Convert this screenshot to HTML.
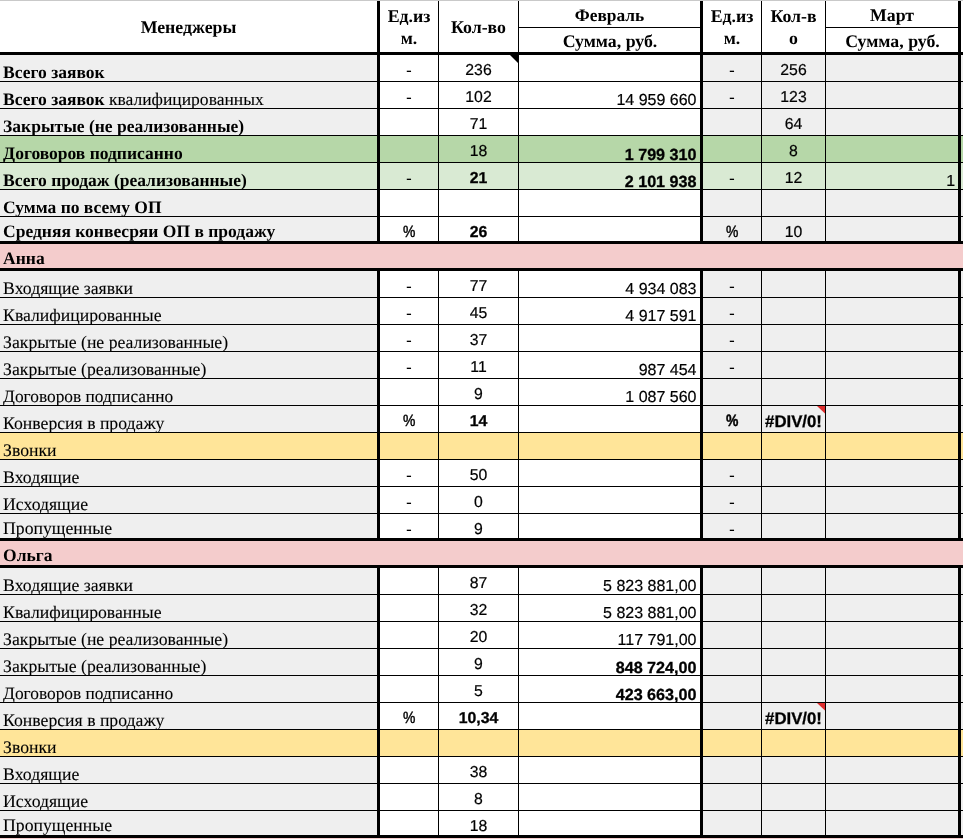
<!DOCTYPE html>
<html lang="ru"><head><meta charset="utf-8"><title>Менеджеры</title><style>
html,body{margin:0;padding:0;background:#fff}
#s{position:relative;width:963px;height:839px;overflow:hidden;background:#fff}
#s div{position:absolute;text-rendering:geometricPrecision}
#tx{left:0;top:0;width:963px;height:839px;will-change:transform}
.t{font-family:"Liberation Serif",serif;font-size:17.5px;line-height:20px;height:20px;white-space:nowrap;color:#000}
.n{font-family:"Liberation Sans",sans-serif;font-size:15.8px;line-height:20px;height:20px;white-space:nowrap;color:#000}
.h{font-family:"Liberation Serif",serif;font-size:17.8px;line-height:20px;height:20px;white-space:nowrap;color:#000;font-weight:bold;text-align:center}
.b{font-weight:bold}
.n{-webkit-text-stroke:.2px #000}
.n.b{-webkit-text-stroke:.3px #000}
.rg{font-size:17.7px;-webkit-text-stroke:.1px #000}
.rg.dp{font-size:17.35px}
.rg.kv{font-size:17.55px}
.pc{display:inline-block;position:relative;top:-1px;transform:scaleX(.85);font-size:16.4px;-webkit-text-stroke:.45px #000}
.hy{font-size:17.5px;line-height:0;-webkit-text-stroke:0;position:relative;top:.6px}
.dv{font-size:16.8px}
.r{font-size:16px}
.r.b{font-size:16.15px}
.c{text-align:center}
.r{text-align:right}
</style></head><body><div id="s">
<div style="left:0px;top:55px;width:377px;height:27px;background:#efefef"></div>
<div style="left:703px;top:55px;width:260px;height:27px;background:#efefef"></div>
<div style="left:0px;top:82px;width:377px;height:27px;background:#efefef"></div>
<div style="left:703px;top:82px;width:260px;height:27px;background:#efefef"></div>
<div style="left:0px;top:109px;width:377px;height:27px;background:#efefef"></div>
<div style="left:703px;top:109px;width:260px;height:27px;background:#efefef"></div>
<div style="left:0px;top:136px;width:963px;height:27px;background:#b6d7a8"></div>
<div style="left:0px;top:163px;width:963px;height:27px;background:#d9ead3"></div>
<div style="left:0px;top:190px;width:377px;height:27px;background:#efefef"></div>
<div style="left:703px;top:190px;width:260px;height:27px;background:#efefef"></div>
<div style="left:0px;top:217px;width:377px;height:27px;background:#efefef"></div>
<div style="left:703px;top:217px;width:260px;height:27px;background:#efefef"></div>
<div style="left:0px;top:244px;width:963px;height:27px;background:#f4cccc"></div>
<div style="left:0px;top:271px;width:377px;height:27px;background:#efefef"></div>
<div style="left:703px;top:271px;width:260px;height:27px;background:#efefef"></div>
<div style="left:0px;top:298px;width:377px;height:27px;background:#efefef"></div>
<div style="left:703px;top:298px;width:260px;height:27px;background:#efefef"></div>
<div style="left:0px;top:325px;width:377px;height:27px;background:#efefef"></div>
<div style="left:703px;top:325px;width:260px;height:27px;background:#efefef"></div>
<div style="left:0px;top:352px;width:377px;height:27px;background:#efefef"></div>
<div style="left:703px;top:352px;width:260px;height:27px;background:#efefef"></div>
<div style="left:0px;top:379px;width:377px;height:27px;background:#efefef"></div>
<div style="left:703px;top:379px;width:260px;height:27px;background:#efefef"></div>
<div style="left:0px;top:406px;width:377px;height:27px;background:#efefef"></div>
<div style="left:703px;top:406px;width:260px;height:27px;background:#efefef"></div>
<div style="left:0px;top:433px;width:963px;height:27px;background:#ffe599"></div>
<div style="left:0px;top:460px;width:377px;height:27px;background:#efefef"></div>
<div style="left:703px;top:460px;width:260px;height:27px;background:#efefef"></div>
<div style="left:0px;top:487px;width:377px;height:27px;background:#efefef"></div>
<div style="left:703px;top:487px;width:260px;height:27px;background:#efefef"></div>
<div style="left:0px;top:514px;width:377px;height:27px;background:#efefef"></div>
<div style="left:703px;top:514px;width:260px;height:27px;background:#efefef"></div>
<div style="left:0px;top:541px;width:963px;height:27px;background:#f4cccc"></div>
<div style="left:0px;top:568px;width:377px;height:27px;background:#efefef"></div>
<div style="left:703px;top:568px;width:260px;height:27px;background:#efefef"></div>
<div style="left:0px;top:595px;width:377px;height:27px;background:#efefef"></div>
<div style="left:703px;top:595px;width:260px;height:27px;background:#efefef"></div>
<div style="left:0px;top:622px;width:377px;height:27px;background:#efefef"></div>
<div style="left:703px;top:622px;width:260px;height:27px;background:#efefef"></div>
<div style="left:0px;top:649px;width:377px;height:27px;background:#efefef"></div>
<div style="left:703px;top:649px;width:260px;height:27px;background:#efefef"></div>
<div style="left:0px;top:676px;width:377px;height:27px;background:#efefef"></div>
<div style="left:703px;top:676px;width:260px;height:27px;background:#efefef"></div>
<div style="left:0px;top:703px;width:377px;height:27px;background:#efefef"></div>
<div style="left:703px;top:703px;width:260px;height:27px;background:#efefef"></div>
<div style="left:0px;top:730px;width:963px;height:27px;background:#ffe599"></div>
<div style="left:0px;top:757px;width:377px;height:27px;background:#efefef"></div>
<div style="left:703px;top:757px;width:260px;height:27px;background:#efefef"></div>
<div style="left:0px;top:784px;width:377px;height:27px;background:#efefef"></div>
<div style="left:703px;top:784px;width:260px;height:27px;background:#efefef"></div>
<div style="left:0px;top:811px;width:377px;height:27px;background:#efefef"></div>
<div style="left:703px;top:811px;width:260px;height:27px;background:#efefef"></div>
<div style="left:0px;top:838px;width:963px;height:1px;background:#f4cccc"></div>
<div style="left:0px;top:0px;width:963px;height:1px;background:#c9c9c9"></div>
<div style="left:519px;top:27px;width:181px;height:1px;background:#000"></div>
<div style="left:826px;top:27px;width:132px;height:1px;background:#000"></div>
<div style="left:0px;top:52px;width:963px;height:3px;background:#000"></div>
<div style="left:0px;top:81px;width:963px;height:1px;background:#000"></div>
<div style="left:0px;top:108px;width:963px;height:1px;background:#000"></div>
<div style="left:0px;top:135px;width:963px;height:1px;background:#000"></div>
<div style="left:0px;top:162px;width:963px;height:1px;background:#000"></div>
<div style="left:0px;top:189px;width:963px;height:1px;background:#000"></div>
<div style="left:0px;top:216px;width:963px;height:1px;background:#000"></div>
<div style="left:0px;top:241px;width:963px;height:3px;background:#000"></div>
<div style="left:0px;top:268px;width:963px;height:3px;background:#000"></div>
<div style="left:0px;top:297px;width:963px;height:1px;background:#000"></div>
<div style="left:0px;top:324px;width:963px;height:1px;background:#000"></div>
<div style="left:0px;top:351px;width:963px;height:1px;background:#000"></div>
<div style="left:0px;top:378px;width:963px;height:1px;background:#000"></div>
<div style="left:0px;top:405px;width:963px;height:1px;background:#000"></div>
<div style="left:0px;top:432px;width:963px;height:1px;background:#000"></div>
<div style="left:0px;top:459px;width:963px;height:1px;background:#000"></div>
<div style="left:0px;top:486px;width:963px;height:1px;background:#000"></div>
<div style="left:0px;top:513px;width:963px;height:1px;background:#000"></div>
<div style="left:0px;top:538px;width:963px;height:3px;background:#000"></div>
<div style="left:0px;top:565px;width:963px;height:3px;background:#000"></div>
<div style="left:0px;top:594px;width:963px;height:1px;background:#000"></div>
<div style="left:0px;top:621px;width:963px;height:1px;background:#000"></div>
<div style="left:0px;top:648px;width:963px;height:1px;background:#000"></div>
<div style="left:0px;top:675px;width:963px;height:1px;background:#000"></div>
<div style="left:0px;top:702px;width:963px;height:1px;background:#000"></div>
<div style="left:0px;top:729px;width:963px;height:1px;background:#000"></div>
<div style="left:0px;top:756px;width:963px;height:1px;background:#000"></div>
<div style="left:0px;top:783px;width:963px;height:1px;background:#000"></div>
<div style="left:0px;top:810px;width:963px;height:1px;background:#000"></div>
<div style="left:0px;top:835px;width:963px;height:3px;background:#000"></div>
<div style="left:377px;top:1px;width:3px;height:51px;background:#000"></div>
<div style="left:438px;top:1px;width:1px;height:51px;background:#000"></div>
<div style="left:518px;top:1px;width:1px;height:51px;background:#000"></div>
<div style="left:700px;top:1px;width:3px;height:51px;background:#000"></div>
<div style="left:761px;top:1px;width:1px;height:51px;background:#000"></div>
<div style="left:825px;top:1px;width:1px;height:51px;background:#000"></div>
<div style="left:958px;top:1px;width:3px;height:51px;background:#000"></div>
<div style="left:377px;top:55px;width:3px;height:27px;background:#000"></div>
<div style="left:438px;top:55px;width:1px;height:27px;background:#000"></div>
<div style="left:518px;top:55px;width:1px;height:27px;background:#000"></div>
<div style="left:700px;top:55px;width:3px;height:27px;background:#000"></div>
<div style="left:761px;top:55px;width:1px;height:27px;background:#000"></div>
<div style="left:825px;top:55px;width:1px;height:27px;background:#000"></div>
<div style="left:958px;top:55px;width:3px;height:27px;background:#000"></div>
<div style="left:377px;top:82px;width:3px;height:27px;background:#000"></div>
<div style="left:438px;top:82px;width:1px;height:27px;background:#000"></div>
<div style="left:518px;top:82px;width:1px;height:27px;background:#000"></div>
<div style="left:700px;top:82px;width:3px;height:27px;background:#000"></div>
<div style="left:761px;top:82px;width:1px;height:27px;background:#000"></div>
<div style="left:825px;top:82px;width:1px;height:27px;background:#000"></div>
<div style="left:958px;top:82px;width:3px;height:27px;background:#000"></div>
<div style="left:377px;top:109px;width:3px;height:27px;background:#000"></div>
<div style="left:438px;top:109px;width:1px;height:27px;background:#000"></div>
<div style="left:518px;top:109px;width:1px;height:27px;background:#000"></div>
<div style="left:700px;top:109px;width:3px;height:27px;background:#000"></div>
<div style="left:761px;top:109px;width:1px;height:27px;background:#000"></div>
<div style="left:825px;top:109px;width:1px;height:27px;background:#000"></div>
<div style="left:958px;top:109px;width:3px;height:27px;background:#000"></div>
<div style="left:377px;top:136px;width:3px;height:27px;background:#000"></div>
<div style="left:438px;top:136px;width:1px;height:27px;background:#000"></div>
<div style="left:518px;top:136px;width:1px;height:27px;background:#000"></div>
<div style="left:700px;top:136px;width:3px;height:27px;background:#000"></div>
<div style="left:761px;top:136px;width:1px;height:27px;background:#000"></div>
<div style="left:825px;top:136px;width:1px;height:27px;background:#000"></div>
<div style="left:958px;top:136px;width:3px;height:27px;background:#000"></div>
<div style="left:377px;top:163px;width:3px;height:27px;background:#000"></div>
<div style="left:438px;top:163px;width:1px;height:27px;background:#000"></div>
<div style="left:518px;top:163px;width:1px;height:27px;background:#000"></div>
<div style="left:700px;top:163px;width:3px;height:27px;background:#000"></div>
<div style="left:761px;top:163px;width:1px;height:27px;background:#000"></div>
<div style="left:825px;top:163px;width:1px;height:27px;background:#000"></div>
<div style="left:958px;top:163px;width:3px;height:27px;background:#000"></div>
<div style="left:377px;top:190px;width:3px;height:27px;background:#000"></div>
<div style="left:438px;top:190px;width:1px;height:27px;background:#000"></div>
<div style="left:518px;top:190px;width:1px;height:27px;background:#000"></div>
<div style="left:700px;top:190px;width:3px;height:27px;background:#000"></div>
<div style="left:761px;top:190px;width:1px;height:27px;background:#000"></div>
<div style="left:825px;top:190px;width:1px;height:27px;background:#000"></div>
<div style="left:958px;top:190px;width:3px;height:27px;background:#000"></div>
<div style="left:377px;top:217px;width:3px;height:27px;background:#000"></div>
<div style="left:438px;top:217px;width:1px;height:27px;background:#000"></div>
<div style="left:518px;top:217px;width:1px;height:27px;background:#000"></div>
<div style="left:700px;top:217px;width:3px;height:27px;background:#000"></div>
<div style="left:761px;top:217px;width:1px;height:27px;background:#000"></div>
<div style="left:825px;top:217px;width:1px;height:27px;background:#000"></div>
<div style="left:958px;top:217px;width:3px;height:27px;background:#000"></div>
<div style="left:377px;top:271px;width:3px;height:27px;background:#000"></div>
<div style="left:438px;top:271px;width:1px;height:27px;background:#000"></div>
<div style="left:518px;top:271px;width:1px;height:27px;background:#000"></div>
<div style="left:700px;top:271px;width:3px;height:27px;background:#000"></div>
<div style="left:761px;top:271px;width:1px;height:27px;background:#000"></div>
<div style="left:825px;top:271px;width:1px;height:27px;background:#000"></div>
<div style="left:958px;top:271px;width:3px;height:27px;background:#000"></div>
<div style="left:377px;top:298px;width:3px;height:27px;background:#000"></div>
<div style="left:438px;top:298px;width:1px;height:27px;background:#000"></div>
<div style="left:518px;top:298px;width:1px;height:27px;background:#000"></div>
<div style="left:700px;top:298px;width:3px;height:27px;background:#000"></div>
<div style="left:761px;top:298px;width:1px;height:27px;background:#000"></div>
<div style="left:825px;top:298px;width:1px;height:27px;background:#000"></div>
<div style="left:958px;top:298px;width:3px;height:27px;background:#000"></div>
<div style="left:377px;top:325px;width:3px;height:27px;background:#000"></div>
<div style="left:438px;top:325px;width:1px;height:27px;background:#000"></div>
<div style="left:518px;top:325px;width:1px;height:27px;background:#000"></div>
<div style="left:700px;top:325px;width:3px;height:27px;background:#000"></div>
<div style="left:761px;top:325px;width:1px;height:27px;background:#000"></div>
<div style="left:825px;top:325px;width:1px;height:27px;background:#000"></div>
<div style="left:958px;top:325px;width:3px;height:27px;background:#000"></div>
<div style="left:377px;top:352px;width:3px;height:27px;background:#000"></div>
<div style="left:438px;top:352px;width:1px;height:27px;background:#000"></div>
<div style="left:518px;top:352px;width:1px;height:27px;background:#000"></div>
<div style="left:700px;top:352px;width:3px;height:27px;background:#000"></div>
<div style="left:761px;top:352px;width:1px;height:27px;background:#000"></div>
<div style="left:825px;top:352px;width:1px;height:27px;background:#000"></div>
<div style="left:958px;top:352px;width:3px;height:27px;background:#000"></div>
<div style="left:377px;top:379px;width:3px;height:27px;background:#000"></div>
<div style="left:438px;top:379px;width:1px;height:27px;background:#000"></div>
<div style="left:518px;top:379px;width:1px;height:27px;background:#000"></div>
<div style="left:700px;top:379px;width:3px;height:27px;background:#000"></div>
<div style="left:761px;top:379px;width:1px;height:27px;background:#000"></div>
<div style="left:825px;top:379px;width:1px;height:27px;background:#000"></div>
<div style="left:958px;top:379px;width:3px;height:27px;background:#000"></div>
<div style="left:377px;top:406px;width:3px;height:27px;background:#000"></div>
<div style="left:438px;top:406px;width:1px;height:27px;background:#000"></div>
<div style="left:518px;top:406px;width:1px;height:27px;background:#000"></div>
<div style="left:700px;top:406px;width:3px;height:27px;background:#000"></div>
<div style="left:761px;top:406px;width:1px;height:27px;background:#000"></div>
<div style="left:825px;top:406px;width:1px;height:27px;background:#000"></div>
<div style="left:958px;top:406px;width:3px;height:27px;background:#000"></div>
<div style="left:377px;top:433px;width:3px;height:27px;background:#000"></div>
<div style="left:438px;top:433px;width:1px;height:27px;background:#000"></div>
<div style="left:518px;top:433px;width:1px;height:27px;background:#000"></div>
<div style="left:700px;top:433px;width:3px;height:27px;background:#000"></div>
<div style="left:761px;top:433px;width:1px;height:27px;background:#000"></div>
<div style="left:825px;top:433px;width:1px;height:27px;background:#000"></div>
<div style="left:958px;top:433px;width:3px;height:27px;background:#000"></div>
<div style="left:377px;top:460px;width:3px;height:27px;background:#000"></div>
<div style="left:438px;top:460px;width:1px;height:27px;background:#000"></div>
<div style="left:518px;top:460px;width:1px;height:27px;background:#000"></div>
<div style="left:700px;top:460px;width:3px;height:27px;background:#000"></div>
<div style="left:761px;top:460px;width:1px;height:27px;background:#000"></div>
<div style="left:825px;top:460px;width:1px;height:27px;background:#000"></div>
<div style="left:958px;top:460px;width:3px;height:27px;background:#000"></div>
<div style="left:377px;top:487px;width:3px;height:27px;background:#000"></div>
<div style="left:438px;top:487px;width:1px;height:27px;background:#000"></div>
<div style="left:518px;top:487px;width:1px;height:27px;background:#000"></div>
<div style="left:700px;top:487px;width:3px;height:27px;background:#000"></div>
<div style="left:761px;top:487px;width:1px;height:27px;background:#000"></div>
<div style="left:825px;top:487px;width:1px;height:27px;background:#000"></div>
<div style="left:958px;top:487px;width:3px;height:27px;background:#000"></div>
<div style="left:377px;top:514px;width:3px;height:27px;background:#000"></div>
<div style="left:438px;top:514px;width:1px;height:27px;background:#000"></div>
<div style="left:518px;top:514px;width:1px;height:27px;background:#000"></div>
<div style="left:700px;top:514px;width:3px;height:27px;background:#000"></div>
<div style="left:761px;top:514px;width:1px;height:27px;background:#000"></div>
<div style="left:825px;top:514px;width:1px;height:27px;background:#000"></div>
<div style="left:958px;top:514px;width:3px;height:27px;background:#000"></div>
<div style="left:377px;top:568px;width:3px;height:27px;background:#000"></div>
<div style="left:438px;top:568px;width:1px;height:27px;background:#000"></div>
<div style="left:518px;top:568px;width:1px;height:27px;background:#000"></div>
<div style="left:700px;top:568px;width:3px;height:27px;background:#000"></div>
<div style="left:761px;top:568px;width:1px;height:27px;background:#000"></div>
<div style="left:825px;top:568px;width:1px;height:27px;background:#000"></div>
<div style="left:958px;top:568px;width:3px;height:27px;background:#000"></div>
<div style="left:377px;top:595px;width:3px;height:27px;background:#000"></div>
<div style="left:438px;top:595px;width:1px;height:27px;background:#000"></div>
<div style="left:518px;top:595px;width:1px;height:27px;background:#000"></div>
<div style="left:700px;top:595px;width:3px;height:27px;background:#000"></div>
<div style="left:761px;top:595px;width:1px;height:27px;background:#000"></div>
<div style="left:825px;top:595px;width:1px;height:27px;background:#000"></div>
<div style="left:958px;top:595px;width:3px;height:27px;background:#000"></div>
<div style="left:377px;top:622px;width:3px;height:27px;background:#000"></div>
<div style="left:438px;top:622px;width:1px;height:27px;background:#000"></div>
<div style="left:518px;top:622px;width:1px;height:27px;background:#000"></div>
<div style="left:700px;top:622px;width:3px;height:27px;background:#000"></div>
<div style="left:761px;top:622px;width:1px;height:27px;background:#000"></div>
<div style="left:825px;top:622px;width:1px;height:27px;background:#000"></div>
<div style="left:958px;top:622px;width:3px;height:27px;background:#000"></div>
<div style="left:377px;top:649px;width:3px;height:27px;background:#000"></div>
<div style="left:438px;top:649px;width:1px;height:27px;background:#000"></div>
<div style="left:518px;top:649px;width:1px;height:27px;background:#000"></div>
<div style="left:700px;top:649px;width:3px;height:27px;background:#000"></div>
<div style="left:761px;top:649px;width:1px;height:27px;background:#000"></div>
<div style="left:825px;top:649px;width:1px;height:27px;background:#000"></div>
<div style="left:958px;top:649px;width:3px;height:27px;background:#000"></div>
<div style="left:377px;top:676px;width:3px;height:27px;background:#000"></div>
<div style="left:438px;top:676px;width:1px;height:27px;background:#000"></div>
<div style="left:518px;top:676px;width:1px;height:27px;background:#000"></div>
<div style="left:700px;top:676px;width:3px;height:27px;background:#000"></div>
<div style="left:761px;top:676px;width:1px;height:27px;background:#000"></div>
<div style="left:825px;top:676px;width:1px;height:27px;background:#000"></div>
<div style="left:958px;top:676px;width:3px;height:27px;background:#000"></div>
<div style="left:377px;top:703px;width:3px;height:27px;background:#000"></div>
<div style="left:438px;top:703px;width:1px;height:27px;background:#000"></div>
<div style="left:518px;top:703px;width:1px;height:27px;background:#000"></div>
<div style="left:700px;top:703px;width:3px;height:27px;background:#000"></div>
<div style="left:761px;top:703px;width:1px;height:27px;background:#000"></div>
<div style="left:825px;top:703px;width:1px;height:27px;background:#000"></div>
<div style="left:958px;top:703px;width:3px;height:27px;background:#000"></div>
<div style="left:377px;top:730px;width:3px;height:27px;background:#000"></div>
<div style="left:438px;top:730px;width:1px;height:27px;background:#000"></div>
<div style="left:518px;top:730px;width:1px;height:27px;background:#000"></div>
<div style="left:700px;top:730px;width:3px;height:27px;background:#000"></div>
<div style="left:761px;top:730px;width:1px;height:27px;background:#000"></div>
<div style="left:825px;top:730px;width:1px;height:27px;background:#000"></div>
<div style="left:958px;top:730px;width:3px;height:27px;background:#000"></div>
<div style="left:377px;top:757px;width:3px;height:27px;background:#000"></div>
<div style="left:438px;top:757px;width:1px;height:27px;background:#000"></div>
<div style="left:518px;top:757px;width:1px;height:27px;background:#000"></div>
<div style="left:700px;top:757px;width:3px;height:27px;background:#000"></div>
<div style="left:761px;top:757px;width:1px;height:27px;background:#000"></div>
<div style="left:825px;top:757px;width:1px;height:27px;background:#000"></div>
<div style="left:958px;top:757px;width:3px;height:27px;background:#000"></div>
<div style="left:377px;top:784px;width:3px;height:27px;background:#000"></div>
<div style="left:438px;top:784px;width:1px;height:27px;background:#000"></div>
<div style="left:518px;top:784px;width:1px;height:27px;background:#000"></div>
<div style="left:700px;top:784px;width:3px;height:27px;background:#000"></div>
<div style="left:761px;top:784px;width:1px;height:27px;background:#000"></div>
<div style="left:825px;top:784px;width:1px;height:27px;background:#000"></div>
<div style="left:958px;top:784px;width:3px;height:27px;background:#000"></div>
<div style="left:377px;top:811px;width:3px;height:27px;background:#000"></div>
<div style="left:438px;top:811px;width:1px;height:27px;background:#000"></div>
<div style="left:518px;top:811px;width:1px;height:27px;background:#000"></div>
<div style="left:700px;top:811px;width:3px;height:27px;background:#000"></div>
<div style="left:761px;top:811px;width:1px;height:27px;background:#000"></div>
<div style="left:825px;top:811px;width:1px;height:27px;background:#000"></div>
<div style="left:958px;top:811px;width:3px;height:27px;background:#000"></div>
<div id="tx">
<div class="h " style="left:0px;top:17px;width:377px">Менеджеры</div>
<div class="h " style="left:380px;top:6px;width:58px">Ед.из</div>
<div class="h " style="left:380px;top:28px;width:58px">м.</div>
<div class="h " style="left:439px;top:17px;width:79px">Кол-во</div>
<div class="h " style="left:519px;top:5px;width:181px"><span style="font-size:17.4px">Февраль</span></div>
<div class="h " style="left:519.5px;top:31px;width:181px">Сумма, руб.</div>
<div class="h " style="left:703px;top:6px;width:58px">Ед.из</div>
<div class="h " style="left:703px;top:28px;width:58px">м.</div>
<div class="h " style="left:762px;top:6px;width:63px">Кол-в</div>
<div class="h " style="left:762px;top:28px;width:63px">о</div>
<div class="h " style="left:826px;top:5px;width:132px">Март</div>
<div class="h " style="left:826.5px;top:31px;width:132px">Сумма, руб.</div>
<div class="t " style="left:3.1px;top:62px;width:373px"><b>Всего заявок</b></div>
<div class="n c" style="left:380px;top:61px;width:58px"><span class="hy">-</span></div>
<div class="n c" style="left:439px;top:61px;width:79px">236</div>
<div class="n c" style="left:703px;top:61px;width:58px"><span class="hy">-</span></div>
<div class="n c" style="left:762px;top:61px;width:63px">256</div>
<div class="t " style="left:3.1px;top:89px;width:373px"><b>Всего заявок</b><span class="rg kv"> квалифицированных</span></div>
<div class="n c" style="left:380px;top:88px;width:58px"><span class="hy">-</span></div>
<div class="n c" style="left:439px;top:88px;width:79px">102</div>
<div class="n r" style="left:519px;top:91px;width:177.5px">14 959 660</div>
<div class="n c" style="left:703px;top:88px;width:58px"><span class="hy">-</span></div>
<div class="n c" style="left:762px;top:88px;width:63px">123</div>
<div class="t " style="left:3.1px;top:116px;width:373px"><b>Закрытые (не реализованные)</b></div>
<div class="n c" style="left:439px;top:115px;width:79px">71</div>
<div class="n c" style="left:762px;top:115px;width:63px">64</div>
<div class="t " style="left:3.1px;top:143px;width:373px"><b>Договоров подписанно</b></div>
<div class="n c" style="left:439px;top:142px;width:79px">18</div>
<div class="n b r" style="left:519px;top:145px;width:177.5px">1 799 310</div>
<div class="n c" style="left:762px;top:142px;width:63px">8</div>
<div class="t " style="left:3.1px;top:170px;width:373px"><b>Всего продаж (реализованные)</b></div>
<div class="n c" style="left:380px;top:169px;width:58px"><span class="hy">-</span></div>
<div class="n b c" style="left:439px;top:169px;width:79px">21</div>
<div class="n b r" style="left:519px;top:172px;width:177.5px">2 101 938</div>
<div class="n c" style="left:703px;top:169px;width:58px"><span class="hy">-</span></div>
<div class="n c" style="left:762px;top:169px;width:63px">12</div>
<div class="n r" style="left:826px;top:172px;width:129.2px">1</div>
<div class="t " style="left:3.1px;top:197px;width:373px"><b>Сумма по всему ОП</b></div>
<div class="t " style="left:3.1px;top:221px;width:373px"><b>Средняя конвесряи ОП в продажу</b></div>
<div class="n c" style="left:380px;top:223px;width:58px"><span class="pc">%</span></div>
<div class="n b c" style="left:439px;top:223px;width:79px">26</div>
<div class="n c" style="left:703px;top:223px;width:58px"><span class="pc">%</span></div>
<div class="n c" style="left:762px;top:223px;width:63px">10</div>
<div class="t " style="left:3.1px;top:248px;width:373px"><b>Анна</b></div>
<div class="t " style="left:3.1px;top:278px;width:373px"><span class="rg">Входящие заявки</span></div>
<div class="n c" style="left:380px;top:277px;width:58px"><span class="hy">-</span></div>
<div class="n c" style="left:439px;top:277px;width:79px">77</div>
<div class="n r" style="left:519px;top:280px;width:177.5px">4 934 083</div>
<div class="n c" style="left:703px;top:277px;width:58px"><span class="hy">-</span></div>
<div class="t " style="left:3.1px;top:305px;width:373px"><span class="rg">Квалифицированные</span></div>
<div class="n c" style="left:380px;top:304px;width:58px"><span class="hy">-</span></div>
<div class="n c" style="left:439px;top:304px;width:79px">45</div>
<div class="n r" style="left:519px;top:307px;width:177.5px">4 917 591</div>
<div class="n c" style="left:703px;top:304px;width:58px"><span class="hy">-</span></div>
<div class="t " style="left:3.1px;top:332px;width:373px"><span class="rg">Закрытые (не реализованные)</span></div>
<div class="n c" style="left:380px;top:331px;width:58px"><span class="hy">-</span></div>
<div class="n c" style="left:439px;top:331px;width:79px">37</div>
<div class="n c" style="left:703px;top:331px;width:58px"><span class="hy">-</span></div>
<div class="t " style="left:3.1px;top:359px;width:373px"><span class="rg">Закрытые (реализованные)</span></div>
<div class="n c" style="left:380px;top:358px;width:58px"><span class="hy">-</span></div>
<div class="n c" style="left:439px;top:358px;width:79px">11</div>
<div class="n r" style="left:519px;top:361px;width:177.5px">987 454</div>
<div class="n c" style="left:703px;top:358px;width:58px"><span class="hy">-</span></div>
<div class="t " style="left:3.1px;top:386px;width:373px"><span class="rg dp">Договоров подписанно</span></div>
<div class="n c" style="left:439px;top:385px;width:79px">9</div>
<div class="n r" style="left:519px;top:388px;width:177.5px">1 087 560</div>
<div class="t " style="left:3.1px;top:413px;width:373px"><span class="rg">Конверсия в продажу</span></div>
<div class="n c" style="left:380px;top:412px;width:58px"><span class="pc">%</span></div>
<div class="n b c" style="left:439px;top:412px;width:79px">14</div>
<div class="n b c" style="left:703px;top:412px;width:58px"><span class="pc">%</span></div>
<div class="n b c" style="left:762px;top:412px;width:63px"><span class="dv">#DIV/0!</span></div>
<div class="t " style="left:3.1px;top:440px;width:373px"><span class="rg">Звонки</span></div>
<div class="t " style="left:3.1px;top:467px;width:373px"><span class="rg">Входящие</span></div>
<div class="n c" style="left:380px;top:466px;width:58px"><span class="hy">-</span></div>
<div class="n c" style="left:439px;top:466px;width:79px">50</div>
<div class="n c" style="left:703px;top:466px;width:58px"><span class="hy">-</span></div>
<div class="t " style="left:3.1px;top:494px;width:373px"><span class="rg">Исходящие</span></div>
<div class="n c" style="left:380px;top:493px;width:58px"><span class="hy">-</span></div>
<div class="n c" style="left:439px;top:493px;width:79px">0</div>
<div class="n c" style="left:703px;top:493px;width:58px"><span class="hy">-</span></div>
<div class="t " style="left:3.1px;top:518px;width:373px"><span class="rg">Пропущенные</span></div>
<div class="n c" style="left:380px;top:520px;width:58px"><span class="hy">-</span></div>
<div class="n c" style="left:439px;top:520px;width:79px">9</div>
<div class="n c" style="left:703px;top:520px;width:58px"><span class="hy">-</span></div>
<div class="t " style="left:3.1px;top:545px;width:373px"><b>Ольга</b></div>
<div class="t " style="left:3.1px;top:575px;width:373px"><span class="rg">Входящие заявки</span></div>
<div class="n c" style="left:439px;top:574px;width:79px">87</div>
<div class="n r" style="left:519px;top:577px;width:177.5px">5 823 881,00</div>
<div class="t " style="left:3.1px;top:602px;width:373px"><span class="rg">Квалифицированные</span></div>
<div class="n c" style="left:439px;top:601px;width:79px">32</div>
<div class="n r" style="left:519px;top:604px;width:177.5px">5 823 881,00</div>
<div class="t " style="left:3.1px;top:629px;width:373px"><span class="rg">Закрытые (не реализованные)</span></div>
<div class="n c" style="left:439px;top:628px;width:79px">20</div>
<div class="n r" style="left:519px;top:631px;width:177.5px">117 791,00</div>
<div class="t " style="left:3.1px;top:656px;width:373px"><span class="rg">Закрытые (реализованные)</span></div>
<div class="n c" style="left:439px;top:655px;width:79px">9</div>
<div class="n b r" style="left:519px;top:658px;width:177.5px">848 724,00</div>
<div class="t " style="left:3.1px;top:683px;width:373px"><span class="rg dp">Договоров подписанно</span></div>
<div class="n c" style="left:439px;top:682px;width:79px">5</div>
<div class="n b r" style="left:519px;top:685px;width:177.5px">423 663,00</div>
<div class="t " style="left:3.1px;top:710px;width:373px"><span class="rg">Конверсия в продажу</span></div>
<div class="n c" style="left:380px;top:709px;width:58px"><span class="pc">%</span></div>
<div class="n b c" style="left:439px;top:709px;width:79px">10,34</div>
<div class="n b c" style="left:762px;top:709px;width:63px"><span class="dv">#DIV/0!</span></div>
<div class="t " style="left:3.1px;top:737px;width:373px"><span class="rg">Звонки</span></div>
<div class="t " style="left:3.1px;top:764px;width:373px"><span class="rg">Входящие</span></div>
<div class="n c" style="left:439px;top:763px;width:79px">38</div>
<div class="t " style="left:3.1px;top:791px;width:373px"><span class="rg">Исходящие</span></div>
<div class="n c" style="left:439px;top:790px;width:79px">8</div>
<div class="t " style="left:3.1px;top:815px;width:373px"><span class="rg">Пропущенные</span></div>
<div class="n c" style="left:439px;top:817px;width:79px">18</div>
</div>
<svg style="position:absolute;left:510px;top:55px" width="8" height="8"><polygon points="0,0 8,0 8,8" fill="#000"/></svg>
<svg style="position:absolute;left:817px;top:406px" width="8" height="8"><polygon points="0,0 8,0 8,7.5" fill="#dd2e2e"/></svg>
<svg style="position:absolute;left:817px;top:703px" width="8" height="8"><polygon points="0,0 8,0 8,7.5" fill="#dd2e2e"/></svg>
</div></body></html>
